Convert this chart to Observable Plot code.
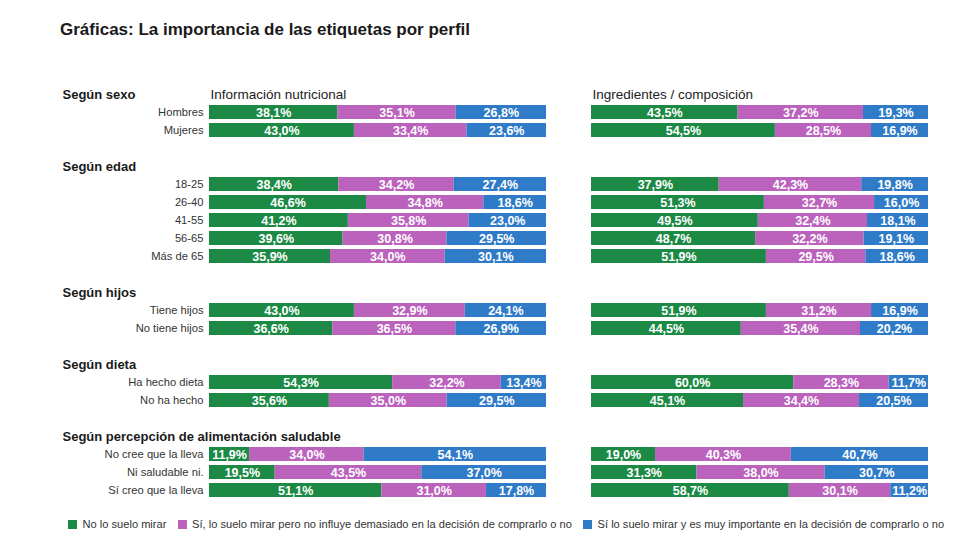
<!DOCTYPE html>
<html><head><meta charset="utf-8">
<script src="https://cdn.jsdelivr.net/npm/d3@7"></script>
<script src="https://cdn.jsdelivr.net/npm/@observablehq/plot@0.6"></script>
<style>
body{margin:0;background:#fff;font-family:"Liberation Sans",Arial,sans-serif;}
#title{height:40px;box-sizing:border-box;padding:19px 0 0 60px;font-size:17px;font-weight:bold;line-height:22px;color:#1a1a1a;overflow:visible;white-space:nowrap;}
#chart svg{display:block;}
#legend{padding-left:68px;margin-top:10px;width:940px;}
#legend .leg-swatches{font-family:"Liberation Sans",Arial,sans-serif;font-size:11.1px;color:#333;min-height:16px;flex-wrap:nowrap;white-space:nowrap;}
</style></head><body>
<div id="title">Gráficas: La importancia de las etiquetas por perfil</div>
<div id="chart"></div>
<div id="legend"></div>
<script>
const panels = ["Información nutricional", "Ingredientes / composición"];
const series = [
  "No lo suelo mirar",
  "Sí, lo suelo mirar pero no influye demasiado en la decisión de comprarlo o no",
  "Sí lo suelo mirar y es muy importante en la decisión de comprarlo o no"
];
const colors = ["#1c8a45", "#bb62bd", "#2f7bc8"];
const groups = ["Según sexo", "Según edad", "Según hijos", "Según dieta", "Según percepción de alimentación saludable"];
const groupRows = [
  ["Hombres", "Mujeres"],
  ["18-25", "26-40", "41-55", "56-65", "Más de 65"],
  ["Tiene hijos", "No tiene hijos"],
  ["Ha hecho dieta", "No ha hecho"],
  ["No cree que la lleva", "Ni saludable ni.", "Sí creo que la lleva"]
];
// Información nutricional
const nutriNo   = [38.1, 43.0, 38.4, 46.6, 41.2, 39.6, 35.9, 43.0, 36.6, 54.3, 35.6, 11.9, 19.5, 51.1];
const nutriAlgo = [35.1, 33.4, 34.2, 34.8, 35.8, 30.8, 34.0, 32.9, 36.5, 32.2, 35.0, 34.0, 43.5, 31.0];
const nutriMuy  = [26.8, 23.6, 27.4, 18.6, 23.0, 29.5, 30.1, 24.1, 26.9, 13.4, 29.5, 54.1, 37.0, 17.8];
// Ingredientes / composición
const ingrNo   = [43.5, 54.5, 37.9, 51.3, 49.5, 48.7, 51.9, 51.9, 44.5, 60.0, 45.1, 19.0, 31.3, 58.7];
const ingrAlgo = [37.2, 28.5, 42.3, 32.7, 32.4, 32.2, 29.5, 31.2, 35.4, 28.3, 34.4, 40.3, 38.0, 30.1];
const ingrMuy  = [19.3, 16.9, 19.8, 16.0, 18.1, 19.1, 18.6, 16.9, 20.2, 11.7, 20.5, 40.7, 30.7, 11.2];

const rows = groupRows.flat();
const rowSet = new Set(rows);
const panelValues = [[nutriNo, nutriAlgo, nutriMuy], [ingrNo, ingrAlgo, ingrMuy]];
const data = [];
panels.forEach((p, pi) => rows.forEach((r, ri) => series.forEach((s, si) => {
  data.push({panel: p, row: r, serie: s, value: panelValues[pi][si][ri]});
})));
const yDomain = [];
groups.forEach((g, i) => {
  if (i > 0) yDomain.push("spacer" + i);
  yDomain.push(g);
  yDomain.push(...groupRows[i]);
});
const fmt = v => v.toFixed(1).replace(".", ",") + "%";

const chart = Plot.plot({
  width: 980, height: 466,
  marginTop: 40, marginBottom: 2, marginLeft: 209, marginRight: 52,
  style: {fontFamily: "Liberation Sans, Arial, sans-serif", fontSize: "11.2px", color: "#333", background: "#fff"},
  fx: {domain: panels, paddingInner: 0.118, paddingOuter: 0, axis: null, label: null},
  y: {domain: yDomain, paddingInner: 0.24, paddingOuter: 0, align: 0.5, tickSize: 0, tickPadding: 6,
      tickFormat: d => rowSet.has(d) ? d : "", label: null},
  x: {domain: [0, 1], axis: null},
  color: {domain: series, range: colors},
  marks: [
    Plot.barX(data, Plot.stackX({fx: "panel", y: "row", x: "value", fill: "serie", offset: "normalize"})),
    Plot.text(data, Plot.stackX({fx: "panel", y: "row", x: "value", z: "serie", offset: "normalize",
      text: d => fmt(d.value), fill: "white", fontWeight: "bold", fontSize: 12.5})),
    Plot.text(groups, {fx: () => panels[0], y: d => d, text: d => d, frameAnchor: "left", textAnchor: "start",
      dx: -147, fontWeight: "bold", fontSize: 13, fill: "#1a1a1a"}),
    Plot.text(panels, {fx: d => d, y: () => groups[0], text: d => d, frameAnchor: "left", textAnchor: "start",
      dx: 1, fontSize: 13.5, fill: "#222"})
  ]
});
document.getElementById("chart").appendChild(chart);

const legend = Plot.legend({color: {domain: series, range: colors}, swatchSize: 9, className: "leg"});
document.getElementById("legend").appendChild(legend);
</script>
</body></html>
